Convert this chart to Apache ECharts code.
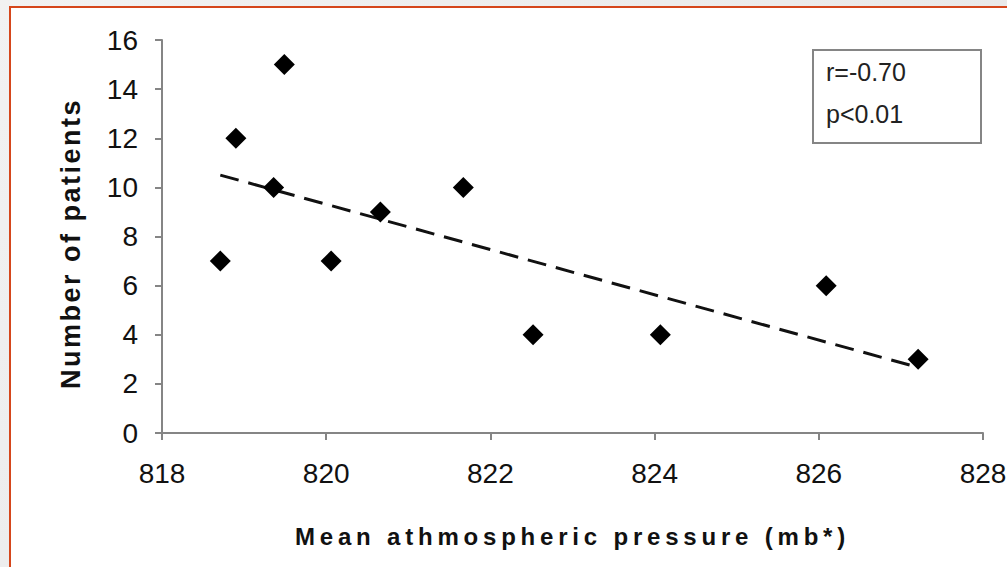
<!DOCTYPE html>
<html>
<head>
<meta charset="utf-8">
<title>Patients vs. mean atmospheric pressure</title>
<script src="https://cdn.jsdelivr.net/npm/echarts@6/dist/echarts.min.js"></script>
<style>
  html, body { margin: 0; padding: 0; width: 1007px; height: 567px; overflow: hidden; }
  body { background: linear-gradient(135deg, #f2f2f2 0%, #e4e4e4 100%); position: relative; }
  #panel {
    position: absolute; left: 9px; top: 6px; right: 0; bottom: 0;
    background: #ffffff;
    border-left: 2px solid #d5461b;
    border-top: 2px solid #d5461b;
  }
  #chart { position: absolute; left: 0; top: 0; width: 1007px; height: 567px; }
  /* axis titles are set with wide tracking: y title uses weight "bold", x title weight 800 */
  #chart svg text[style*="bold"], #chart svg text[font-weight="bold"] { letter-spacing: 2.5px; }
  #chart svg text[style*="800"], #chart svg text[font-weight="800"] { letter-spacing: 4.8px; }
</style>
</head>
<body>
<div id="panel"></div>
<div id="chart"></div>
<script>
// Mean atmospheric pressure (mb) and number of patients per period
const pressure = [818.71, 818.90, 819.49, 819.36, 820.06, 820.66, 821.67, 822.52, 824.07, 826.09, 827.21];
const patients = [7, 12, 15, 10, 7, 9, 10, 4, 4, 6, 3];

// Linear trend line end points [pressure, patients]
const trendStart = [818.71, 10.5];
const trendEnd = [827.21, 2.67];

// Axis ranges and tick steps
const xTicks = [818, 820, 822, 824, 826, 828];
const yTicks = [0, 2, 4, 6, 8, 10, 12, 14, 16];

const statLines = ['r=-0.70', 'p<0.01'];

const FONT = '"Liberation Sans", Arial, sans-serif';
const AXIS_GREY = '#858585';

const chart = echarts.init(document.getElementById('chart'), null, { renderer: 'svg' });

chart.setOption({
  animation: false,
  backgroundColor: 'transparent',
  grid: { left: 162, right: 24, top: 40, bottom: 134, containLabel: false, outerBoundsMode: 'none' },
  xAxis: {
    type: 'value',
    min: xTicks[0],
    max: xTicks[xTicks.length - 1],
    interval: xTicks[1] - xTicks[0],
    name: 'Mean athmospheric pressure (mb*)',
    nameLocation: 'middle',
    nameGap: 91,
    nameTextStyle: { fontFamily: FONT, fontWeight: 800, fontSize: 24, color: '#111' },
    axisLine: { show: true, lineStyle: { color: AXIS_GREY, width: 2 } },
    axisTick: { show: true, length: 7, lineStyle: { color: AXIS_GREY, width: 2 } },
    axisLabel: { fontFamily: FONT, fontSize: 28, color: '#111', margin: 26, hideOverlap: false },
    splitLine: { show: false }
  },
  yAxis: {
    type: 'value',
    min: yTicks[0],
    max: yTicks[yTicks.length - 1],
    interval: yTicks[1] - yTicks[0],
    name: 'Number of patients',
    nameLocation: 'middle',
    nameGap: 78,
    nameTextStyle: { fontFamily: FONT, fontWeight: 'bold', fontSize: 27, color: '#111', padding: [0, 14, 0, 0] },
    axisLine: { show: true, lineStyle: { color: AXIS_GREY, width: 2 } },
    axisTick: { show: true, length: 7, lineStyle: { color: AXIS_GREY, width: 2 } },
    axisLabel: { fontFamily: FONT, fontSize: 28, color: '#111', margin: 24 },
    splitLine: { show: false }
  },
  series: [
    {
      name: 'trend',
      type: 'line',
      silent: true,
      symbol: 'none',
      data: [trendStart, trendEnd],
      lineStyle: { color: '#111', width: 3, type: [19, 10] },
      z: 1
    },
    {
      name: 'patients',
      type: 'scatter',
      symbol: 'diamond',
      symbolSize: 21,
      data: pressure.map((p, i) => [p, patients[i]]),
      itemStyle: { color: '#000', opacity: 1 },
      z: 2
    }
  ],
  graphic: [
    {
      type: 'rect',
      left: 812,
      top: 49,
      shape: { width: 168, height: 93 },
      style: { fill: '#fff', stroke: AXIS_GREY, lineWidth: 2 }
    },
    {
      type: 'text',
      left: 826,
      top: 59,
      style: { text: statLines[0], fontFamily: FONT, fontSize: 25, fill: '#222' }
    },
    {
      type: 'text',
      left: 826,
      top: 101,
      style: { text: statLines[1], fontFamily: FONT, fontSize: 25, fill: '#222' }
    }
  ]
});
</script>
</body>
</html>
